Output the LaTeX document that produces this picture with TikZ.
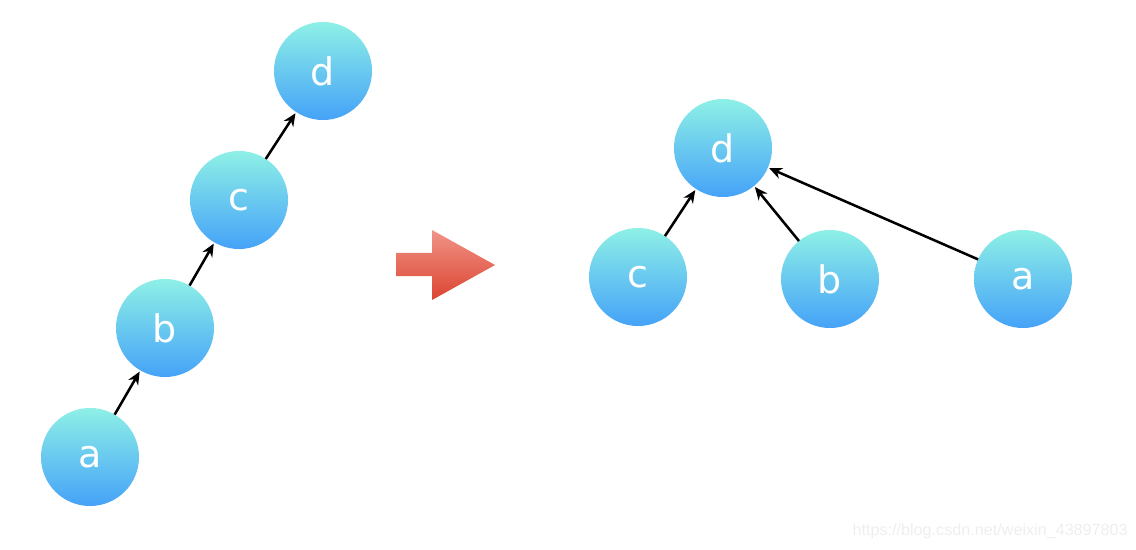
\documentclass[tikz,border=0pt]{standalone}
\usepackage{fontspec}
\setmainfont{DejaVu Sans}
\newfontfamily\markfont{Liberation Sans}
\usepackage{tikz}
\usetikzlibrary{positioning,arrows.meta}

\definecolor{ballTop}{HTML}{8EF0E6}
\definecolor{ballBot}{HTML}{45A2F8}
\definecolor{bigTop}{HTML}{F09488}
\definecolor{bigBot}{HTML}{DC4430}
\definecolor{markGray}{HTML}{EEEEEE}

\begin{document}
\begin{tikzpicture}[x=0.025cm, y=-0.025cm,
    every node/.style={font=\fontsize{27}{32}\selectfont},
    ball/.style={circle, minimum size=2.45cm, inner sep=0pt, outer sep=0pt,
        top color=ballTop, bottom color=ballBot, text=white},
    link/.style={-{Stealth[length=3.2mm, width=2.8mm]}, line width=1.8pt, shorten >=1pt},
]
\useasboundingbox (0,0) rectangle (1136,550);

% Before: a chain
\node[ball] (a1) at (90,457) {a};
\node[ball] (b1) at (165,328) {b};
\node[ball] (c1) at (239,200) {c};
\node[ball] (d1) at (323,71) {d};

% After: all point to the root
\node[ball] (d2) at (723,148) {d};
\node[ball] (c2) at (638,277) {c};
\node[ball] (b2) at (830,279) {b};
\node[ball] (a2) at (1023,279) {a};

% Arrows
\draw[link] (a1) -- (b1);
\draw[link] (b1) -- (c1);
\draw[link] (c1) -- (d1);
\draw[link] (c2) -- (d2);
\draw[link] (b2) -- (d2);
\draw[link] (a2) -- (d2);

% Big arrow in the middle
\shade[top color=bigTop, bottom color=bigBot]
    (396,253) -- (432,253) -- (432,230) -- (495,265) -- (432,300) -- (432,276) -- (396,276) -- cycle;

% Watermark
\node[font=\markfont\fontsize{11.5}{13}\selectfont, text=markGray, anchor=east, inner sep=0pt] (mark) at (1128,531) {https://blog.csdn.net/weixin\_43897803};

\end{tikzpicture}
\end{document}
